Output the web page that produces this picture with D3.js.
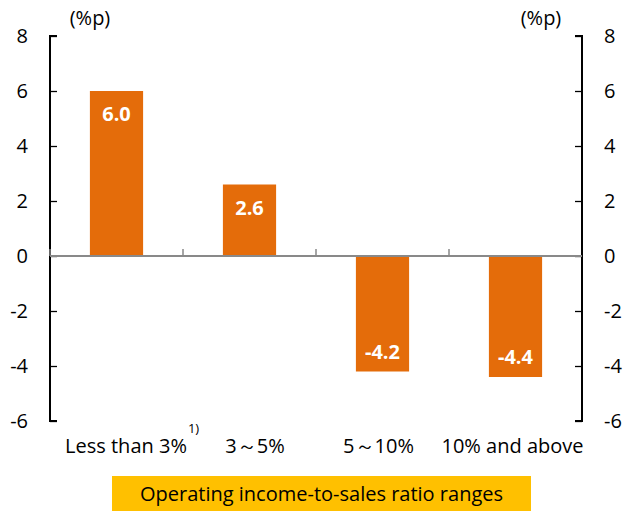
<!DOCTYPE html>
<html>
<head>
<meta charset="utf-8">
<script src="https://cdn.jsdelivr.net/npm/d3@7"></script>
<style>
  html, body { margin: 0; padding: 0; background: #fff; }
  svg { display: block; }
  text { font-family: "Open Sans", sans-serif; }
</style>
</head>
<body>
<svg id="chart" width="623" height="511"></svg>
<script>
const categories = ["Less than 3%", "3～5%", "5～10%", "10% and above"];
const values = [6.0, 2.6, -4.2, -4.4];
const yTicks = [-6, -4, -2, 0, 2, 4, 6, 8];
const unitLabel = "(%p)";
const footnote = "1)";
const axisTitle = "Operating income-to-sales ratio ranges";

(function () {
const svg = d3.select("#chart");
const mLeft = 50, mRight = 582, mTop = 36, mBottom = 421;
const FS = 20;
const ff = "'Open Sans', sans-serif";

const x = d3.scaleBand().domain(categories).range([mLeft, mRight]).paddingInner(0.6).paddingOuter(0.3);
const xb = d3.scaleBand().domain(categories).range([mLeft, mRight]);
const y = d3.scaleLinear().domain([-6, 8]).range([mBottom, mTop]);

// bars
svg.selectAll("rect.bar").data(values).enter().append("rect")
  .attr("class", "bar")
  .attr("x", (d, i) => x(categories[i]))
  .attr("width", x.bandwidth())
  .attr("y", d => y(Math.max(0, d)))
  .attr("height", d => Math.abs(y(d) - y(0)))
  .attr("fill", "#E46C0A");

// value labels
svg.selectAll("text.val").data(values).enter().append("text")
  .attr("class", "val")
  .attr("x", (d, i) => x(categories[i]) + x.bandwidth() / 2)
  .attr("y", d => d >= 0 ? y(d) + 23 : y(d) - 20)
  .attr("dy", "0.35em")
  .attr("text-anchor", "middle")
  .attr("fill", "#fff")
  .attr("font-weight", "bold")
  .attr("font-size", FS)
  .text(d => d.toFixed(1));

const fmt = d => String(d);

// left axis
const yl = d3.axisLeft(y).tickValues(yTicks).tickSize(-7).tickPadding(22).tickFormat(fmt);
const gl = svg.append("g").attr("transform", `translate(${mLeft},0)`).call(yl);
gl.select(".domain").attr("stroke", "#000").attr("stroke-width", 2).attr("d", `M7,${y(8)}H0V${y(-6)}H7`);
gl.selectAll(".tick line").attr("stroke", "#000").attr("stroke-width", 1.3);
gl.selectAll(".tick text").attr("font-size", FS).attr("fill", "#000").style("font-family", ff);

// right axis
const yr = d3.axisRight(y).tickValues(yTicks).tickSize(-7).tickPadding(22).tickFormat(fmt);
const gr = svg.append("g").attr("transform", `translate(${mRight},0)`).call(yr);
gr.select(".domain").attr("stroke", "#000").attr("stroke-width", 2).attr("d", `M-7,${y(8)}H0V${y(-6)}H-7`);
gr.selectAll(".tick line").attr("stroke", "#000").attr("stroke-width", 1.3);
gr.selectAll(".tick text").attr("font-size", FS).attr("fill", "#000").style("font-family", ff);

// zero line with category boundary ticks
const zg = svg.append("g");
zg.append("line").attr("x1", mLeft).attr("x2", mRight).attr("y1", y(0)).attr("y2", y(0))
  .attr("stroke", "#898989").attr("stroke-width", 2);
const bounds = categories.map(c => xb(c)).slice(1).concat([mLeft]);
zg.selectAll("line.ct").data(bounds).enter().append("line")
  .attr("x1", d => d).attr("x2", d => d).attr("y1", y(0)).attr("y2", y(0) - 7)
  .attr("stroke", "#898989").attr("stroke-width", 1.5);

// category labels
const catOffsets = [9.5, 5.5, -4, -3];
const cats = svg.selectAll("text.cat").data(categories).enter().append("text")
  .attr("class", "cat")
  .attr("x", (d, i) => xb(d) + xb.bandwidth() / 2 + catOffsets[i])
  .attr("y", 446)
  .attr("dy", "0.35em")
  .attr("text-anchor", "middle")
  .attr("font-size", FS)
  .attr("fill", "#000")
  .text(d => d);

// footnote after first label
const firstNode = cats.nodes()[0];
const fx = +firstNode.getAttribute("x") + firstNode.getComputedTextLength() / 2 + 1;
svg.append("text").attr("x", fx).attr("y", 433).attr("font-size", 13).attr("fill", "#000").text(footnote);

// unit labels
svg.append("text").attr("x", 90).attr("y", 18).attr("dy", "0.35em").attr("text-anchor", "middle").attr("font-size", FS).text(unitLabel);
svg.append("text").attr("x", 541).attr("y", 18).attr("dy", "0.35em").attr("text-anchor", "middle").attr("font-size", FS).text(unitLabel);

// axis title box
svg.append("rect").attr("x", 112).attr("y", 476).attr("width", 419).attr("height", 35).attr("fill", "#FFC000");
svg.append("text").attr("x", 321.5).attr("y", 494).attr("dy", "0.35em").attr("text-anchor", "middle").attr("font-size", FS).attr("fill", "#000").text(axisTitle);
})();
</script>
</body>
</html>
